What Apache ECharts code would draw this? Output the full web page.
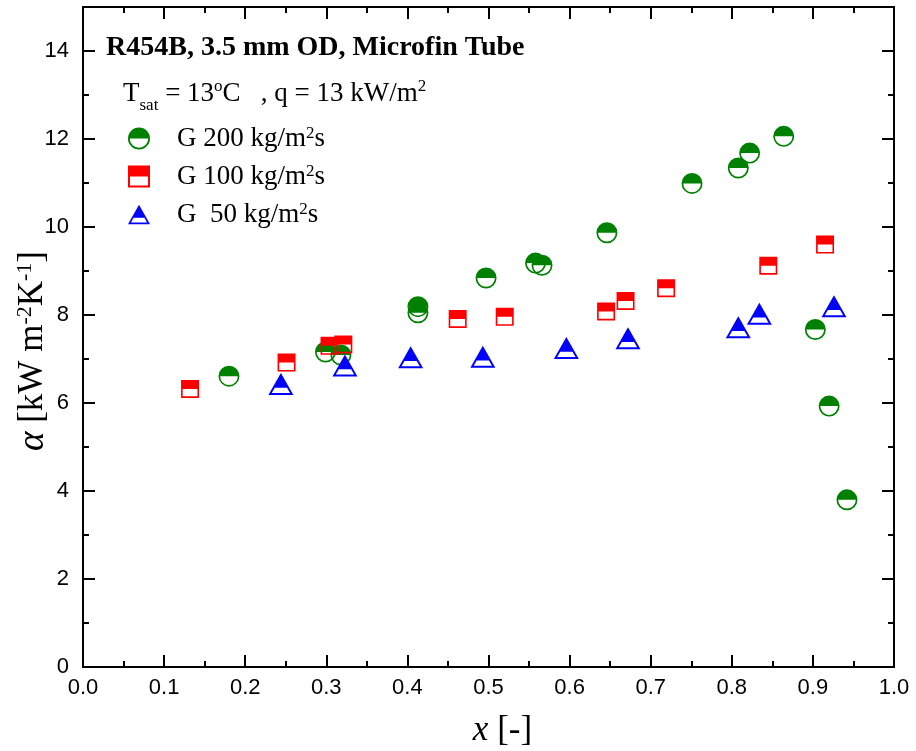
<!DOCTYPE html>
<html>
<head>
<meta charset="utf-8">
<script src="https://cdn.jsdelivr.net/npm/echarts@6/dist/echarts.min.js"></script>
<style>
  html, body { margin: 0; padding: 0; background: #fff; }
  #chart { width: 916px; height: 751px; }
</style>
</head>
<body>
<div id="chart"></div>
<script>
// Vapour quality x [-] and heat transfer coefficient alpha [kW m-2 K-1]
const qualityG200 = [0.180, 0.299, 0.318, 0.413, 0.413, 0.497, 0.558, 0.566, 0.646, 0.751, 0.808, 0.822, 0.864, 0.903, 0.920, 0.942];
const alphaG200   = [6.61, 7.16, 7.09, 8.19, 8.05, 8.84, 9.18, 9.13, 9.87, 10.99, 11.34, 11.68, 12.06, 7.67, 5.93, 3.80];

const qualityG100 = [0.132, 0.251, 0.304, 0.321, 0.462, 0.520, 0.645, 0.669, 0.719, 0.845, 0.915];
const alphaG100   = [6.32, 6.92, 7.30, 7.33, 7.91, 7.96, 8.08, 8.32, 8.61, 9.12, 9.60];

const qualityG50 = [0.244, 0.323, 0.404, 0.493, 0.596, 0.672, 0.808, 0.834, 0.926];
const alphaG50   = [6.43, 6.85, 7.04, 7.05, 7.25, 7.47, 7.72, 8.03, 8.20];

const seriesNames = ['G 200 kg/m2s', 'G 100 kg/m2s', 'G  50 kg/m2s'];
const legendLabels = {
  'G 200 kg/m2s': ['G 200 kg/m', 's'],
  'G 100 kg/m2s': ['G 100 kg/m', 's'],
  'G  50 kg/m2s': ['G  50 kg/m', 's']
};

const xTicks = { min: 0, max: 1, interval: 0.1 };
const yTicks = { min: 0, max: 15, interval: 2 };

// Half-filled marker outlines: solid top half, outlined (hollow) bottom half
const circleHalf = 'path://M0,50A50,50,0,0,1,50,0A50,50,0,0,1,100,50A50,50,0,0,1,50,100A50,50,0,0,1,0,50Z' +
                   'M8,50A42,42,0,0,0,50,92A42,42,0,0,0,92,50Z';
const squareHalf = 'path://M0,0L100,0L100,100L0,100ZM9,50L9,91L91,91L91,50Z';
const triangleHalf = 'path://M50,0L100,88L0,88ZM25.5,59L13.5,80L86.5,80L74.5,59Z';

const pairs = (xs, ys) => xs.map((v, i) => [v, ys[i]]);

const serif = '"Liberation Serif", "Times New Roman", serif';
const sans = '"Liberation Sans", Arial, sans-serif';

const frameLine = { show: true, onZero: false, lineStyle: { color: '#000', width: 2 } };
const majorTick = (len) => ({ show: true, inside: true, length: len, lineStyle: { color: '#000', width: 2 } });

const chart = echarts.init(document.getElementById('chart'), null, { renderer: 'canvas' });

chart.setOption({
  animation: false,
  backgroundColor: '#fff',
  grid: { left: 83, right: 22, top: 7, bottom: 84, containLabel: false, outerBoundsMode: 'none' },
  title: [
    {
      text: 'R454B, 3.5 mm OD, Microfin Tube',
      left: 101, top: 29,
      textStyle: { fontFamily: serif, fontWeight: 'bold', fontSize: 28, color: '#000' }
    },
    {
      text: '{a|T}{sub|sat}{a| = 13}{sup|o}{a|C   , q = 13 kW/m}{sup|2}',
      left: 118, top: 73,
      textStyle: {
        fontWeight: 'normal',
        rich: {
          a: { fontFamily: serif, fontWeight: 'normal', fontSize: 27, color: '#000', lineHeight: 32 },
          sub: { fontFamily: serif, fontWeight: 'normal', fontSize: 17, color: '#000', verticalAlign: 'bottom', lineHeight: 32, padding: [0, 0, -4, 0] },
          sup: { fontFamily: serif, fontWeight: 'normal', fontSize: 17, color: '#000', verticalAlign: 'top', lineHeight: 32 }
        }
      }
    }
  ],
  legend: {
    orient: 'vertical',
    left: 123, top: 120,
    itemWidth: 22, itemHeight: 22,
    itemGap: 11,
    data: seriesNames,
    formatter: (name) => {
      const p = legendLabels[name];
      return '{g|}{a|' + p[0] + '}{sup|2}{a|' + p[1] + '}';
    },
    textStyle: {
      rich: {
        g: { width: 22 },
        a: { fontFamily: serif, fontSize: 27, color: '#000', lineHeight: 26 },
        sup: { fontFamily: serif, fontSize: 17, color: '#000', verticalAlign: 'top', lineHeight: 26 }
      }
    }
  },
  xAxis: [
    {
      type: 'value', position: 'bottom',
      min: xTicks.min, max: xTicks.max, interval: xTicks.interval,
      axisLine: frameLine,
      axisTick: majorTick(12),
      minorTick: { show: true, splitNumber: 2, length: 6, lineStyle: { color: '#000', width: 2 } },
      splitLine: { show: false },
      axisLabel: {
        margin: 10, color: '#000', fontFamily: sans, fontSize: 22,
        formatter: (v) => v.toFixed(1)
      },
      name: '{i|x}{a| [-]}',
      nameLocation: 'middle',
      nameGap: 46,
      nameTextStyle: {
        padding: [0, 0, 0, 28],
        rich: {
          i: { fontFamily: serif, fontStyle: 'italic', fontSize: 35, color: '#000' },
          a: { fontFamily: serif, fontSize: 35, color: '#000' }
        }
      }
    },
    {
      type: 'value', position: 'top',
      min: xTicks.min, max: xTicks.max, interval: xTicks.interval,
      axisLine: frameLine,
      axisTick: majorTick(12),
      minorTick: { show: true, splitNumber: 2, length: 6, lineStyle: { color: '#000', width: 2 } },
      splitLine: { show: false },
      axisLabel: { show: false }
    }
  ],
  yAxis: [
    {
      type: 'value', position: 'left',
      min: yTicks.min, max: yTicks.max, interval: yTicks.interval,
      axisLine: frameLine,
      axisTick: majorTick(12),
      splitLine: { show: false },
      axisLabel: {
        margin: 14, color: '#000', fontFamily: sans, fontSize: 22,
        showMaxLabel: false,
        formatter: (v) => (v > 14 ? '' : String(v))
      },
      name: '{i|α}{a| [kW m}{sup|-2}{a|K}{sup|-1}{a|]}',
      nameLocation: 'middle',
      nameRotate: 90,
      nameGap: 31,
      nameMoveOverlap: false,
      nameTextStyle: {
        padding: [0, 28, 0, 0],
        rich: {
          i: { fontFamily: serif, fontStyle: 'italic', fontSize: 37, color: '#000', lineHeight: 38 },
          a: { fontFamily: serif, fontSize: 35, color: '#000', lineHeight: 38 },
          sup: { fontFamily: serif, fontSize: 22, color: '#000', verticalAlign: 'top', lineHeight: 38 }
        }
      }
    },
    {
      type: 'value', position: 'left',
      min: yTicks.min, max: yTicks.max, interval: 1,
      axisLine: frameLine,
      axisTick: majorTick(6),
      splitLine: { show: false },
      axisLabel: { show: false }
    },
    {
      type: 'value', position: 'right',
      min: yTicks.min, max: yTicks.max, interval: yTicks.interval,
      axisLine: frameLine,
      axisTick: majorTick(12),
      splitLine: { show: false },
      axisLabel: { show: false }
    },
    {
      type: 'value', position: 'right',
      min: yTicks.min, max: yTicks.max, interval: 1,
      axisLine: frameLine,
      axisTick: majorTick(6),
      splitLine: { show: false },
      axisLabel: { show: false }
    }
  ],
  series: [
    {
      name: seriesNames[0], type: 'scatter', xAxisIndex: 0, yAxisIndex: 0,
      symbol: circleHalf, symbolSize: 21,
      itemStyle: { color: '#008000', opacity: 1 },
      data: pairs(qualityG200, alphaG200)
    },
    {
      name: seriesNames[1], type: 'scatter', xAxisIndex: 0, yAxisIndex: 0,
      symbol: squareHalf, symbolSize: 18,
      itemStyle: { color: '#ff0000', opacity: 1 },
      data: pairs(qualityG100, alphaG100)
    },
    {
      name: seriesNames[2], type: 'scatter', xAxisIndex: 0, yAxisIndex: 0,
      symbol: triangleHalf, symbolSize: [25, 22],
      itemStyle: { color: '#0000ff', opacity: 1 },
      data: pairs(qualityG50, alphaG50)
    }
  ]
});
</script>
</body>
</html>
